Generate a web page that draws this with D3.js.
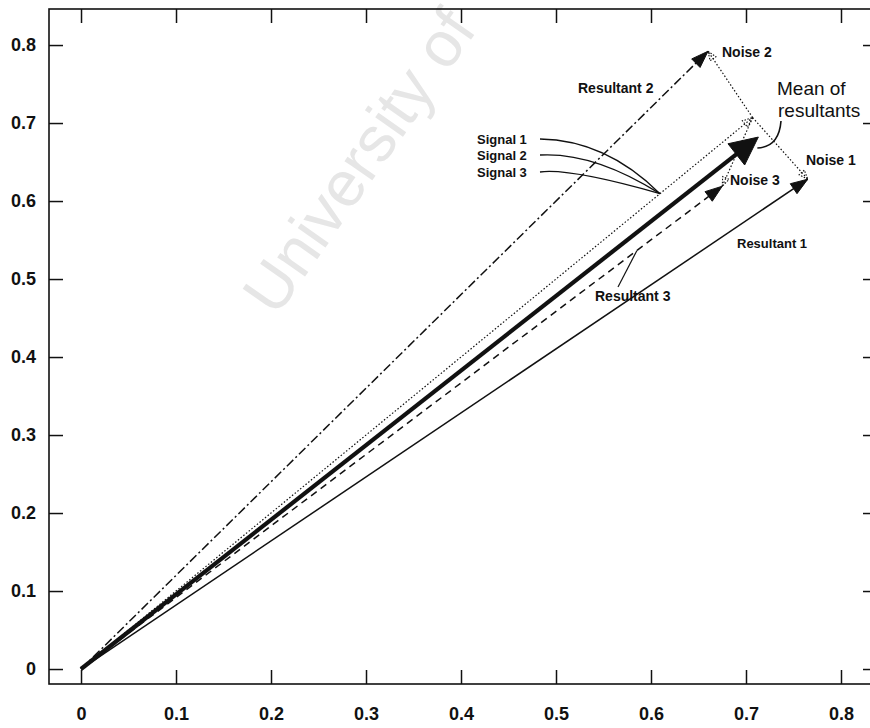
<!DOCTYPE html>
<html>
<head>
<meta charset="utf-8">
<script src="https://cdn.jsdelivr.net/npm/d3@7"></script>
<style>
  html, body { margin: 0; padding: 0; background: #fff; }
  svg { display: block; }
  text { font-family: "Liberation Sans", Arial, Helvetica, sans-serif; fill: #111; }
</style>
</head>
<body>
<svg id="chart" width="870" height="728"></svg>
<script>
// ---- vector data (x, y components) ----
const signalNames = ["Signal 1", "Signal 2", "Signal 3"];
const signalVector = [0.707, 0.707];

const resultantNames = ["Resultant 1", "Resultant 2", "Resultant 3"];
const resultantX = [0.765, 0.660, 0.675];
const resultantY = [0.628, 0.792, 0.619];

const noiseNames = ["Noise 1", "Noise 2", "Noise 3"];

const meanResultant = [0.713, 0.682];

const xTickValues = [0, 0.1, 0.2, 0.3, 0.4, 0.5, 0.6, 0.7, 0.8];
const yTickValues = [0, 0.1, 0.2, 0.3, 0.4, 0.5, 0.6, 0.7, 0.8];
const xDomain = [-0.0337, 0.8379];
const yDomain = [-0.0192, 0.8462];

// ---- layout ----
const frame = { left: 49, right: 877, top: 9, bottom: 684 };
const svg = d3.select("#chart");

const x = d3.scaleLinear().domain(xDomain).range([frame.left, frame.right]);
const y = d3.scaleLinear().domain(yDomain).range([frame.bottom, frame.top]);

const ink = "#111";
const fmt = d => (d === 0 ? "0" : d3.format(".1f")(d));

// faint diagonal watermark behind the plot
svg.append("text")
  .attr("transform", "translate(276,318) rotate(-55)")
  .attr("font-size", 64)
  .style("fill", "#e6e6e6")
  .text("University of");

// ---- axes: ticks on all four sides, pointing inward ----
function styleAxis(g) {
  g.select(".domain").remove();
  g.selectAll(".tick line").attr("stroke", ink).attr("stroke-width", 1.5);
  g.selectAll(".tick text")
    .attr("font-size", 18)
    .attr("font-weight", "bold")
    .style("fill", ink);
}

svg.append("g")
  .attr("transform", `translate(0,${frame.bottom})`)
  .call(d3.axisBottom(x).tickValues(xTickValues).tickSize(-14).tickPadding(23).tickFormat(fmt))
  .call(styleAxis);

svg.append("g")
  .attr("transform", `translate(0,${frame.top})`)
  .call(d3.axisTop(x).tickValues(xTickValues).tickSize(-14).tickFormat(""))
  .call(styleAxis);

svg.append("g")
  .attr("transform", `translate(${frame.left},0)`)
  .call(d3.axisLeft(y).tickValues(yTickValues).tickSize(-14).tickPadding(13).tickFormat(fmt))
  .call(styleAxis);

svg.append("g")
  .attr("transform", `translate(${frame.right},0)`)
  .call(d3.axisRight(y).tickValues(yTickValues).tickSize(-14).tickFormat(""))
  .call(styleAxis);

svg.append("rect")
  .attr("x", frame.left).attr("y", frame.top)
  .attr("width", frame.right - frame.left).attr("height", frame.bottom - frame.top)
  .attr("fill", "none").attr("stroke", ink).attr("stroke-width", 1.6);

// ---- vectors ----
const plot = svg.append("g");
const P = (vx, vy) => [x(vx), y(vy)];
const origin = P(0, 0);
const sigTip = P(signalVector[0], signalVector[1]);

function headPoints(from, tip, len, half) {
  const dx = tip[0] - from[0], dy = tip[1] - from[1];
  const L = Math.hypot(dx, dy);
  const ux = dx / L, uy = dy / L;
  const bx = tip[0] - ux * len, by = tip[1] - uy * len;
  return [tip, [bx - uy * half, by + ux * half], [bx + uy * half, by - ux * half]];
}

function arrow(from, tip, opts) {
  plot.append("line")
    .attr("x1", from[0]).attr("y1", from[1])
    .attr("x2", tip[0] - (tip[0] - from[0]) * (opts.trim || 0))
    .attr("y2", tip[1] - (tip[1] - from[1]) * (opts.trim || 0))
    .attr("stroke", ink)
    .attr("stroke-width", opts.width)
    .attr("stroke-dasharray", opts.dash || null);
  const pts = headPoints(from, tip, opts.len, opts.half);
  const h = plot.append("polygon").attr("points", pts.map(p => p.join(",")).join(" "));
  if (opts.hollow) {
    h.attr("fill", "none").attr("stroke", ink).attr("stroke-width", 1.1).attr("stroke-dasharray", "1.5,1.5");
  } else {
    h.attr("fill", ink).attr("stroke", ink).attr("stroke-width", 1);
  }
}

// signal (dotted)
arrow(origin, sigTip, { width: 1.2, dash: "1.5,2", len: 10, half: 4, hollow: true });

// resultants
const resultantDash = [null, "9,3,2,3", "7,5"];
resultantX.forEach((rx, i) => {
  arrow(origin, P(rx, resultantY[i]), { width: 1.5, dash: resultantDash[i], len: 17, half: 6 });
});

// noise: from the signal tip to each resultant tip (dotted)
resultantX.forEach((rx, i) => {
  arrow(sigTip, P(rx, resultantY[i]), { width: 1.2, dash: "1.5,2", len: 9, half: 3.5, hollow: true });
});

// mean of resultants (heavy)
const meanTip = P(meanResultant[0], meanResultant[1]);
arrow(origin, meanTip, { width: 4.2, len: 28, half: 13.5, trim: 0.02 });

// ---- annotations ----
const labelFont = 14;
function label(txt, px, py, size, weight, anchor) {
  svg.append("text")
    .attr("x", px).attr("y", py)
    .attr("font-size", size || labelFont)
    .attr("font-weight", weight || "bold")
    .attr("text-anchor", anchor || "start")
    .text(txt);
}

label(noiseNames[1], 722, 57);
label(noiseNames[0], 806, 165);
label(noiseNames[2], 730, 185);
label(resultantNames[1], 578, 93);
label(resultantNames[0], 737, 248, 13);
label(resultantNames[2], 595, 301);
label("Mean of", 777, 95, 19, "normal");
label("resultants", 778, 117, 19, "normal");

const signalLabelY = [144, 160, 177];
signalNames.forEach((s, i) => label(s, 477, signalLabelY[i], 13));

// curved leaders from the signal labels to the signal vector
const sigHit = P(signalVector[0] * 0.862, signalVector[1] * 0.862);
const leaderCtrl = [[606, 140], [594, 152], [570, 168]];
signalLabelY.forEach((ly, i) => {
  const p = d3.path();
  p.moveTo(540, ly - 5);
  p.quadraticCurveTo(leaderCtrl[i][0], leaderCtrl[i][1], sigHit[0], sigHit[1]);
  plot.append("path").attr("d", p.toString()).attr("fill", "none").attr("stroke", ink).attr("stroke-width", 1.3);
});

// leader from "Resultant 3" to its vector
const r3Hit = P(resultantX[2] * 0.867, resultantY[2] * 0.867);
plot.append("line")
  .attr("x1", 618).attr("y1", 287).attr("x2", r3Hit[0]).attr("y2", r3Hit[1])
  .attr("stroke", ink).attr("stroke-width", 1.2);

// hooked leader from "Mean of resultants" to the heavy arrowhead
{
  const p = d3.path();
  p.moveTo(781, 121);
  p.quadraticCurveTo(779, 147, meanTip[0] - 1, meanTip[1] + 11);
  plot.append("path").attr("d", p.toString()).attr("fill", "none").attr("stroke", ink).attr("stroke-width", 1.6);
}
</script>
</body>
</html>
